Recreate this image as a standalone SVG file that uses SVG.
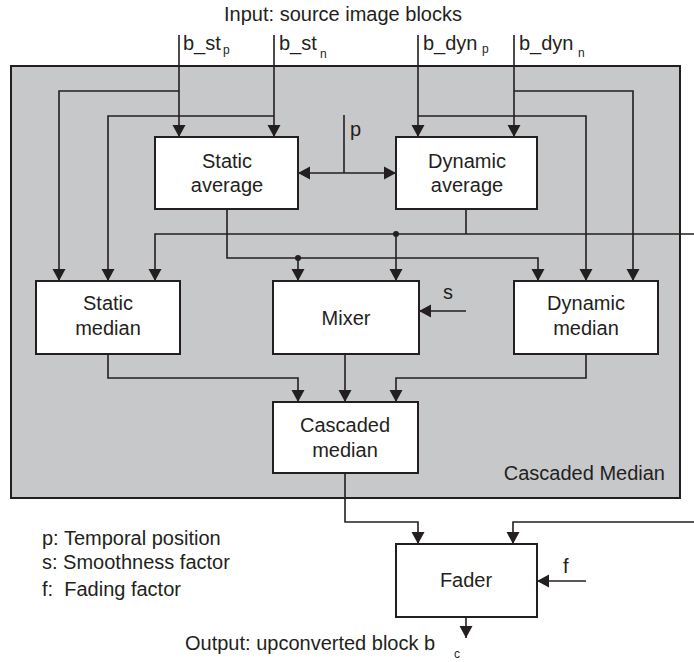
<svg xmlns="http://www.w3.org/2000/svg" width="694" height="662" viewBox="0 0 694 662">
  <style>
    text { font-family: "Liberation Sans", Arial, Helvetica, sans-serif; fill: #231f20; }
    .t { font-size: 20px; }
    .c { text-anchor: middle; }
    .sub { font-size: 12px; }
    .box { fill: #ffffff; stroke: #231f20; stroke-width: 2; }
    .frame { fill: #c7c8ca; stroke: #231f20; stroke-width: 2; }
    .wire { fill: none; stroke: #231f20; stroke-width: 1.6; }
    .arr { marker-end: url(#head); }
    .dot { fill: #231f20; }
  </style>
  <defs>
    <marker id="head" markerUnits="userSpaceOnUse" markerWidth="13" markerHeight="14" refX="12" refY="6.5" orient="auto-start-reverse" viewBox="0 0 13 13">
      <path d="M0,0 L12,6.5 L0,13 Z" fill="#231f20"/>
    </marker>
  </defs>

  <!-- subsystem frame -->
  <g id="cascaded-median-frame">
    <rect class="frame" x="11" y="66" width="669" height="432"/>
    <text class="t" x="665" y="480" text-anchor="end">Cascaded Median</text>
  </g>

  <!-- external labels -->
  <g id="input-labels">
    <text class="t c" x="343" y="21">Input: source image blocks</text>
    <text class="t" x="183" y="50">b_st</text><text class="sub" x="223" y="54">p</text>
    <text class="t" x="279" y="50">b_st</text><text class="sub" x="320" y="58">n</text>
    <text class="t" x="423" y="50">b_dyn</text><text class="sub" x="482" y="53">p</text>
    <text class="t" x="519" y="50">b_dyn</text><text class="sub" x="578" y="57">n</text>
  </g>

  <!-- connectors -->
  <g id="connectors">
    <path class="wire arr" d="M179,35 V137"/>
    <path class="wire arr" d="M179,91 H59 V281"/>
    <path class="wire arr" d="M274,35 V137"/>
    <path class="wire arr" d="M274,116 H108 V281"/>
    <path class="wire arr" d="M418,35 V137"/>
    <path class="wire arr" d="M418,116 H586 V281"/>
    <path class="wire arr" d="M514,35 V137"/>
    <path class="wire arr" d="M514,91 H633 V281"/>

    <path class="wire" d="M344,115 V173"/>
    <path class="wire arr" d="M298,173 H396" marker-start="url(#head)"/>

    <path class="wire arr" d="M227,209 V258 H538 V281"/>
    <path class="wire arr" d="M298,258 V281"/>
    <circle class="dot" cx="298" cy="258" r="3"/>

    <path class="wire" d="M466,209 V234"/>
    <path class="wire arr" d="M694,234 H155 V281"/>
    <path class="wire arr" d="M396,234 V281"/>
    <circle class="dot" cx="396" cy="234" r="3"/>

    <path class="wire arr" d="M466,311 H419"/>

    <path class="wire arr" d="M108,354 V378 H298 V402"/>
    <path class="wire arr" d="M345,354 V402"/>
    <path class="wire arr" d="M586,354 V378 H396 V402"/>

    <path class="wire arr" d="M345,473 V522 H418 V544"/>
    <path class="wire arr" d="M694,522 H513 V544"/>
    <path class="wire arr" d="M586,581 H537"/>
    <path class="wire arr" d="M466,617 V638"/>
  </g>

  <g id="static-average">
    <rect class="box" x="155" y="137" width="143" height="72"/>
    <text class="t c" x="227" y="168">Static</text>
    <text class="t c" x="227" y="192">average</text>
  </g>
  <g id="dynamic-average">
    <rect class="box" x="396" y="137" width="141" height="72"/>
    <text class="t c" x="467" y="168">Dynamic</text>
    <text class="t c" x="467" y="192">average</text>
  </g>
  <g id="static-median">
    <rect class="box" x="36" y="281" width="144" height="73"/>
    <text class="t c" x="108" y="310">Static</text>
    <text class="t c" x="108" y="335">median</text>
  </g>
  <g id="mixer">
    <rect class="box" x="273" y="281" width="146" height="73"/>
    <text class="t c" x="346" y="325">Mixer</text>
  </g>
  <g id="dynamic-median">
    <rect class="box" x="514" y="281" width="144" height="73"/>
    <text class="t c" x="586" y="310">Dynamic</text>
    <text class="t c" x="586" y="335">median</text>
  </g>
  <g id="cascaded-median">
    <rect class="box" x="273" y="402" width="145" height="71"/>
    <text class="t c" x="345" y="432">Cascaded</text>
    <text class="t c" x="345" y="457">median</text>
  </g>
  <g id="fader">
    <rect class="box" x="396" y="544" width="141" height="73"/>
    <text class="t c" x="466" y="587">Fader</text>
  </g>

  <!-- parameter labels -->
  <g id="parameters">
    <text class="t" x="350" y="136">p</text>
    <text class="t" x="443" y="299">s</text>
    <text class="t" x="563" y="573">f</text>
  </g>

  <g id="legend">
    <text class="t" x="42" y="545">p: Temporal position</text>
    <text class="t" x="42" y="569">s: Smoothness factor</text>
    <text class="t" x="42" y="596" xml:space="preserve">f:  Fading factor</text>
  </g>

  <g id="output-label">
    <text class="t" x="185" y="650">Output: upconverted block b</text>
    <text class="sub" x="454" y="658">c</text>
  </g>
</svg>
